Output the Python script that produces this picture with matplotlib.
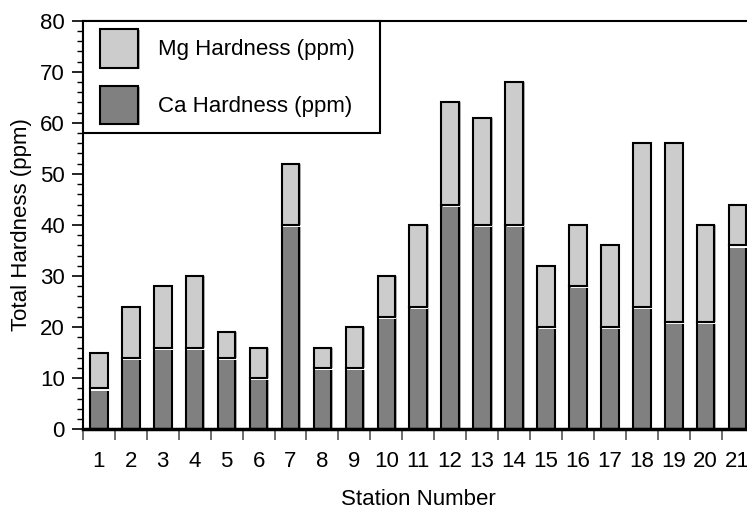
import numpy as np
import matplotlib.pyplot as plt
import matplotlib.patheffects as pe
from matplotlib.patches import Patch
from matplotlib.legend_handler import HandlerPatch
from matplotlib.ticker import MultipleLocator, FixedLocator, NullFormatter

plt.rcParams['font.family'] = ['Liberation Sans', 'DejaVu Sans']

# Hardness per station (ppm)
stations = np.arange(1, 22)
ca_hardness = [8, 14, 16, 16, 14, 10, 40, 12, 12, 22, 24, 44, 40, 40, 20, 28, 20, 24, 21, 21, 36]
total_hardness = [15, 24, 28, 30, 19, 16, 52, 16, 20, 30, 40, 64, 61, 68, 32, 40, 36, 56, 56, 40, 44]
mg_hardness = [t - c for t, c in zip(total_hardness, ca_hardness)]

ca_color = '#808080'
mg_color = '#cccccc'
grey_shadow = pe.SimplePatchShadow(offset=(1.2, -0.8), shadow_rgbFace='#909090', alpha=0.7)
ca_effects = [grey_shadow, pe.Normal()]
# light seam under the upper segment plus a soft grey edge on its right
mg_effects = [pe.SimplePatchShadow(offset=(1.0, -1.6), shadow_rgbFace='white', alpha=1.0),
              pe.SimplePatchShadow(offset=(1.2, 0), shadow_rgbFace='#909090', alpha=0.7),
              pe.Normal()]
fs = 16

fig = plt.figure(figsize=(7.47, 5.11), dpi=100)
ax = fig.add_axes([0.111, 0.160, 0.8978, 0.7995])

w = 0.55
ca_bars = ax.bar(stations, ca_hardness, width=w, color=ca_color, edgecolor='black', linewidth=1.5, zorder=2)
mg_bars = ax.bar(stations, mg_hardness, bottom=ca_hardness, width=w, color=mg_color,
                 edgecolor='black', linewidth=1.5, zorder=2)
for b in ca_bars:
    b.set_path_effects(ca_effects)
for b in mg_bars:
    b.set_path_effects(mg_effects)

ax.set_xlim(0.5, 21.5)
ax.set_ylim(0, 80)

# y axis: labels every 10, small ticks every 2
ax.yaxis.set_major_locator(MultipleLocator(10))
ax.yaxis.set_minor_locator(MultipleLocator(2))
ax.tick_params(axis='y', which='major', length=8, width=1.2, direction='out', labelsize=fs, pad=5)
ax.tick_params(axis='y', which='minor', length=4, width=1.0, direction='out')

# x axis: ticks between stations, labels under each station
ax.xaxis.set_major_locator(FixedLocator(np.arange(0.5, 22, 1)))
ax.xaxis.set_major_formatter(NullFormatter())
ax.xaxis.set_minor_locator(FixedLocator(stations))
ax.set_xticklabels([str(s) for s in stations], minor=True)
ax.tick_params(axis='x', which='major', length=8, width=1.2, color='#555555', direction='out')
ax.tick_params(axis='x', which='minor', length=0, labelsize=fs, pad=16)

for side in ['left', 'top']:
    ax.spines[side].set_linewidth(1.5)
ax.spines['bottom'].set_linewidth(2.5)
ax.spines['right'].set_visible(False)

ax.set_xlabel('Station Number', fontsize=fs, labelpad=12)
ax.set_ylabel('Total Hardness (ppm)', fontsize=fs, labelpad=6)

handles = [Patch(facecolor=mg_color, edgecolor='black', linewidth=1.5, path_effects=ca_effects),
           Patch(facecolor=ca_color, edgecolor='black', linewidth=1.5, path_effects=ca_effects)]
leg = ax.legend(handles, ['Mg Hardness (ppm)', 'Ca Hardness (ppm)'], loc='upper left',
                bbox_to_anchor=(0, 0.7, 0.443, 0.3), mode='expand', borderaxespad=0,
                fontsize=fs, frameon=True, fancybox=False, framealpha=1, edgecolor='black',
                handlelength=2.1, handleheight=2.29, handletextpad=0.9, labelspacing=0.81,
                borderpad=0.38, handler_map={Patch: HandlerPatch(xpad=0.39)})
leg.get_frame().set_linewidth(1.5)
leg.set_zorder(5)

fig.savefig('out.png', dpi=100)
